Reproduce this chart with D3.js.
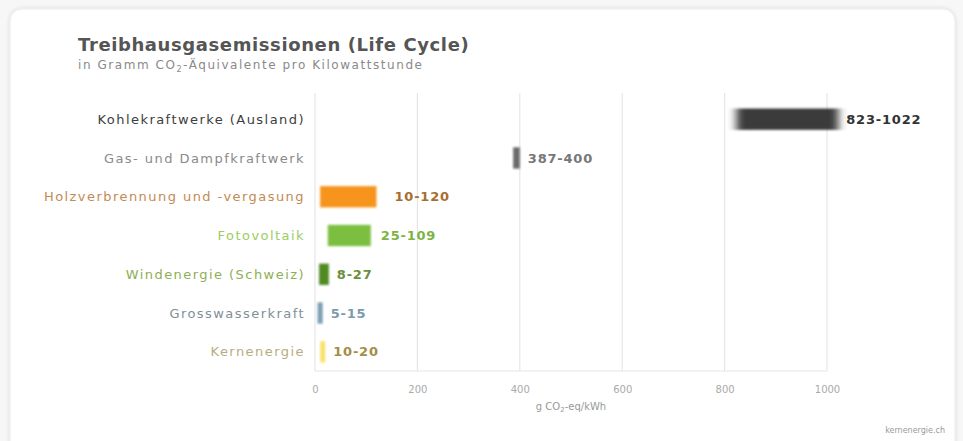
<!DOCTYPE html>
<html><head><meta charset="utf-8">
<script src="https://cdn.jsdelivr.net/npm/d3@7"></script>
<style>
html,body{margin:0;padding:0;background:#f7f7f7;}
svg{display:block;font-family:"DejaVu Sans",sans-serif;}
</style></head>
<body>
<script>
const categories = ["Kohlekraftwerke (Ausland)","Gas- und Dampfkraftwerk","Holzverbrennung und -vergasung","Fotovoltaik","Windenergie (Schweiz)","Grosswasserkraft","Kernenergie"];
const lows  = [823, 387, 10, 25, 8, 5, 10];
const highs = [1022, 400, 120, 109, 27, 15, 20];
const barColors   = ["#3a3a3a","#6a6a6a","#f7941d","#7cbf3f","#4f8a22","#7d9fb3","#f8e36a"];
const labelColors = ["#3d3d3d","#8a8a8a","#c48a52","#9ccc65","#8fae55","#7f8f99","#b9ac7e"];
const valueColors = ["#333333","#777777","#a86d2e","#7cb342","#6b8f3a","#7b9cad","#a48d45"];
const xTicks = [0,200,400,600,800,1000];

const W=963,H=441;
const svg=d3.select("body").append("svg").attr("width",W).attr("height",H);
const defs=svg.append("defs");
defs.append("filter").attr("id","blurK").attr("x","-20%").attr("y","-50%").attr("width","140%").attr("height","200%")
  .append("feGaussianBlur").attr("stdDeviation","4 1.2");
defs.append("filter").attr("id","soft").attr("x","-20%").attr("y","-50%").attr("width","140%").attr("height","200%")
  .append("feGaussianBlur").attr("stdDeviation","0.8");
const sh=defs.append("filter").attr("id","shadow").attr("x","-5%").attr("y","-5%").attr("width","110%").attr("height","115%");
sh.append("feDropShadow").attr("dx",0).attr("dy",0).attr("stdDeviation",2).attr("flood-color","#000").attr("flood-opacity",0.12);

// card
svg.append("rect").attr("x",10).attr("y",9).attr("width",945).attr("height",450).attr("rx",12)
  .attr("fill","#fff").attr("stroke","#ececec").attr("filter","url(#shadow)");

svg.append("text").attr("x",78).attr("y",51).attr("font-size",18).attr("font-weight","bold")
  .attr("fill","#555").attr("letter-spacing",0.6).text("Treibhausgasemissionen (Life Cycle)");
const sub=svg.append("text").attr("x",78).attr("y",69).attr("font-size",12).attr("fill","#8a8a8a").attr("letter-spacing",1.55);
sub.append("tspan").text("in Gramm CO");
sub.append("tspan").attr("font-size",8).attr("dy",3).text("2");
sub.append("tspan").attr("dy",-3).text("-Äquivalente pro Kilowattstunde");

const x=d3.scaleLinear().domain([0,1000]).range([315,827]);
const y=d3.scaleBand().domain(categories).range([100,371]).paddingInner(0.45).paddingOuter(0.22);

// grid
svg.append("g").selectAll("line").data(xTicks).join("line")
  .attr("x1",d=>x(d)).attr("x2",d=>x(d)).attr("y1",93).attr("y2",371)
  .attr("stroke","#e6e6e6").attr("stroke-width",1.2);
svg.append("line").attr("x1",x(0)).attr("x2",x(1000)).attr("y1",371).attr("y2",371).attr("stroke","#e6e6e6").attr("stroke-width",1.2);

const xAxis=svg.append("g").attr("transform","translate(0,371)")
  .call(d3.axisBottom(x).tickValues(xTicks).tickFormat(d3.format("d")).tickSize(0).tickPadding(15));
xAxis.select(".domain").remove();
xAxis.selectAll("text").attr("font-size",10).attr("fill","#aaa").attr("font-family","DejaVu Sans");

const at=svg.append("text").attr("x",571).attr("y",410).attr("text-anchor","middle").attr("font-size",10).attr("fill","#999");
at.append("tspan").text("g CO");
at.append("tspan").attr("font-size",7).attr("dy",2).text("2");
at.append("tspan").attr("dy",-2).text("-eq/kWh");

// bars
const data=categories.map((c,i)=>({c,lo:lows[i],hi:highs[i],i}));
svg.append("g").selectAll("rect").data(data).join("rect")
  .attr("x",d=>x(d.lo)).attr("width",d=>Math.max(4,x(d.hi)-x(d.lo)))
  .attr("y",d=>y(d.c)).attr("height",y.bandwidth())
  .attr("fill",d=>barColors[d.i])
  .attr("filter",d=>d.i===0?"url(#blurK)":"url(#soft)");

// category labels
svg.append("g").selectAll("text").data(data).join("text")
  .attr("x",305).attr("y",d=>y(d.c)+y.bandwidth()/2).attr("dy","0.35em")
  .attr("text-anchor","end").attr("font-size",13).attr("letter-spacing",1.45)
  .attr("fill",d=>labelColors[d.i]).text(d=>d.c);

// value labels
svg.append("g").selectAll("text").data(data).join("text")
  .attr("x",d=>x(d.hi)+(d.i===0?8:d.i===2?18:d.i===3?10:8)).attr("y",d=>y(d.c)+y.bandwidth()/2).attr("dy","0.35em")
  .attr("font-size",13).attr("font-weight","bold").attr("letter-spacing",0.8)
  .attr("fill",d=>valueColors[d.i]).text(d=>d.lo+"-"+d.hi);

svg.append("text").attr("x",945).attr("y",433).attr("text-anchor","end").attr("font-size",8).attr("fill","#999").text("kernenergie.ch");
</script>
</body></html>
